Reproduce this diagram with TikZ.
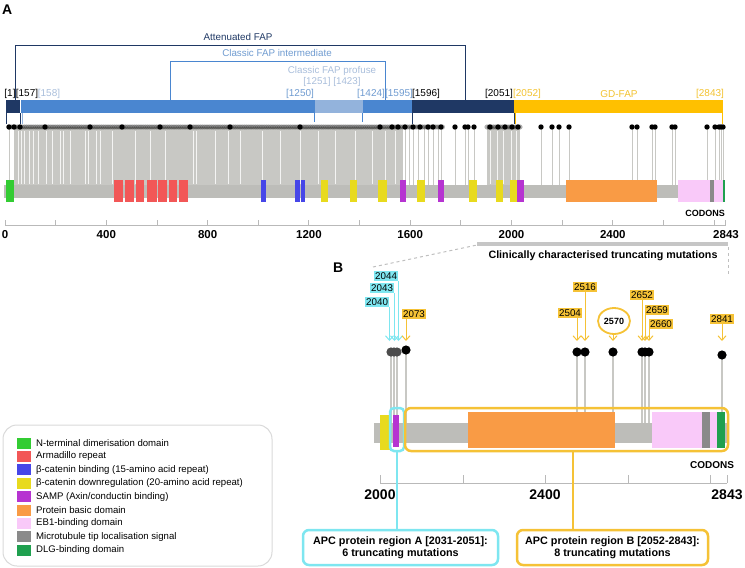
\documentclass[tikz,border=0pt]{standalone}
\usepackage{fontspec}
\setmainfont{Liberation Sans}
\usetikzlibrary{arrows.meta,shapes.geometric}
\definecolor{navy}{HTML}{1F3864}
\definecolor{fapblue}{HTML}{4A86D0}
\definecolor{faptxt}{HTML}{6F9BD0}
\definecolor{faplight}{HTML}{93B3DC}
\definecolor{faplt}{HTML}{A9BEDB}
\definecolor{gold}{HTML}{FFC000}
\definecolor{goldtxt}{HTML}{F2C230}
\definecolor{mgold}{HTML}{F5C236}
\definecolor{mcyan}{HTML}{7EE6F0}
\definecolor{bargray}{HTML}{BDBDB9}
\definecolor{stemgray}{HTML}{C8C8C4}
\definecolor{ngreen}{HTML}{33CC33}
\definecolor{armred}{HTML}{F25757}
\definecolor{bcblue}{HTML}{4646E8}
\definecolor{bdyellow}{HTML}{E8DA1E}
\definecolor{sampurple}{HTML}{B634D1}
\definecolor{pborange}{HTML}{F99B45}
\definecolor{ebpink}{HTML}{F9C9F9}
\definecolor{mtgray}{HTML}{8A8A8A}
\definecolor{dlggreen}{HTML}{1FA04F}
\tikzset{
  fapl/.style={font=\fontsize{10}{11}\selectfont, inner sep=0.5pt},
  axl/.style={font=\bfseries\fontsize{11.5}{12}\selectfont, inner sep=0.5pt},
  bxl/.style={font=\bfseries\fontsize{14}{15}\selectfont, inner sep=0.5pt},
  stem/.style={draw=stemgray, line width=0.8},
  bstem/.style={draw=stemgray, line width=1.6},
  mlab/.style={fill=mgold, inner sep=1.3pt, font=\fontsize{9.8}{10}\selectfont},
  clab/.style={fill=mcyan, inner sep=1.3pt, font=\fontsize{9.8}{10}\selectfont},
  garr/.style={draw=mgold, line width=1, -{Straight Barb[length=4.5pt,width=8pt]}},
  carr/.style={draw=mcyan, line width=1, -{Straight Barb[length=4.5pt,width=8pt]}},
  regbox/.style={draw, rounded corners=6pt, line width=2.5, minimum height=35, align=center, font=\bfseries\fontsize{10.8}{12.5}\selectfont, fill=white, inner sep=1pt},
  legsq/.style={minimum width=14, minimum height=11, inner sep=0},
  legt/.style={anchor=west, font=\fontsize{9.6}{10}\selectfont, inner sep=0},
  panel/.style={font=\bfseries\fontsize{14}{14}\selectfont, inner sep=0}
}
\begin{document}
\begin{tikzpicture}[x=1pt,y=-1pt]
\useasboundingbox (0,0) rectangle (745,568);

% ---------- Panel A ----------
\node[panel, anchor=west] (pA) at (2,10) {A};

% brackets
\draw[navy, line width=0.9] (15,100) |- (465,45) -- (465,100);
\node[navy, font=\fontsize{9.8}{10}\selectfont] (att) at (238,37) {Attenuated FAP};
\draw[fapblue, line width=0.9] (170,100) |- (385,61) -- (385,100);
\node[faptxt, font=\fontsize{9.8}{10}\selectfont] (cfi) at (277,53) {Classic FAP intermediate};
\node[faplt, font=\fontsize{9.8}{11}\selectfont, align=center] (cfp) at (332,76) {Classic FAP profuse\\{[1251] [1423]}};

% FAP bar
\fill[navy] (6,100) rectangle (20,113);
\fill[fapblue] (21,100) rectangle (315,113);
\fill[faplight] (315,100) rectangle (363,113);
\fill[fapblue] (363,100) rectangle (412,113);
\fill[navy] (412,100) rectangle (514,113);
\fill[gold] (514,100) rectangle (723,113);
\draw[navy, line width=0.9] (6.4,113) -- (6.4,124) (20,113) -- (20,124) (412,113) -- (412,124) (514,113) -- (514,124);
\draw[faplight, line width=0.9] (22,113) -- (22,124);
\draw[fapblue, line width=0.9] (314,113) -- (314,122) (362,113) -- (362,122);
\draw[gold, line width=0.9] (515,113) -- (515,124) (722.5,113) -- (722.5,124);

% bar labels
\node[fapl] (l1) at (10,94) {[1]};
\node[fapl] (l157) at (27,94) {[157]};
\node[fapl, faplt] (l158) at (49,94) {[158]};
\node[fapl, faptxt] (l1250) at (300,94) {[1250]};
\node[fapl, faptxt] (l1424) at (371,94) {[1424]};
\node[fapl, faptxt] (l1595) at (399,94) {[1595]};
\node[fapl] (l1596) at (426,94) {[1596]};
\node[fapl] (l2051) at (499,94) {[2051]};
\node[fapl, goldtxt] (l2052) at (527,94) {[2052]};
\node[fapl, goldtxt] (lgd) at (619,94) {GD-FAP};
\node[fapl, goldtxt] (l2843) at (710,94) {[2843]};

% dense stems
\fill[stemgray] (14,127) rectangle (403,186);
\foreach \x in {18,21,24,29,33,38,46,52,60,63,70,85,88,96,100,112,135,150,165,193,196,215,228,240,262,280,300,318,335,355,372,385,395}
  \draw[white, line width=0.7, opacity=0.8] (\x,131) -- (\x,184);
\draw[stem] (9,127) -- (9,186);
\foreach \x in {405,409,413,418,424,428,433,438,441,455,465,468,474,541,552,559,569,632,637,652,655,672,675,707,715,719,721,723}
  \draw[stem] (\x,127) -- (\x,186);
\fill[stemgray] (487,127) rectangle (520,186);
\foreach \x in {490,497,503,511,516}
  \draw[white, line width=0.6, opacity=0.8] (\x,131) -- (\x,184);
% dots
\foreach \x in {9,11.2,...,443}
  \fill[black, opacity=0.3] (\x,127) circle (2.6);
\foreach \x in {487,489.2,...,521}
  \fill[black, opacity=0.3] (\x,127) circle (2.6);
\foreach \x in {9,14,20,45,90,122,160,190,230,300,380,392,398,405,413,420,428,433,441,455,465,468,474,490,498,505,512,518,541,552,559,569,632,637,652,655,672,675,707,715,719,721,723}
  \fill[black] (\x,127) circle (2.7);

% protein bar A
\fill[bargray] (4,185) rectangle (724,198);
\fill[ngreen] (6,180) rectangle (14,202);
\foreach \a/\b in {114/123,125/134,136/144,147/157,158/167,169/177,179/188}
  \fill[armred] (\a,180) rectangle (\b,202);
\foreach \a/\b in {261/266,295/300,301/305}
  \fill[bcblue] (\a,180) rectangle (\b,202);
\foreach \a/\b in {321/328,350/357,378/387,417/425,469/477,496/503,510/517}
  \fill[bdyellow] (\a,180) rectangle (\b,202);
\foreach \a/\b in {400/406,438/444,517/524}
  \fill[sampurple] (\a,180) rectangle (\b,202);
\fill[pborange] (566,180) rectangle (657,202);
\fill[ebpink] (678,180) rectangle (723,202);
\fill[mtgray] (710,180) rectangle (714,202);
\fill[dlggreen] (723,180) rectangle (724.5,202);
\node[font=\bfseries\fontsize{9}{10}\selectfont, inner sep=0] (codA) at (705,213) {CODONS};

% axis A
\draw[gray!55, line width=0.9] (5,225.5) -- (725,225.5);
\foreach \c in {0,200,...,2800}
  \draw[gray!55, line width=0.9] ({5+\c*0.25326},220) -- ({5+\c*0.25326},225.5);
\draw[gray!55, line width=0.9] (725,220) -- (725,225.5);
\foreach \c in {0,400,800,1200,1600,2000,2400}
  \node[axl] (ax\c) at ({5+\c*0.25326},235) {\c};
\node[axl] (ax2843) at (726,235) {2843};

% ---------- Panel B ----------
\node[panel, anchor=west] (pB) at (333,268) {B};
\draw[gray!45, line width=4] (477,244) -- (728,244);
\draw[gray!50, dashed, line width=1] (373,267) -- (477,245);
\draw[gray!50, dashed, line width=1] (728,247) -- (728,276);
\node[font=\bfseries\fontsize{10.7}{11}\selectfont, inner sep=0] (clin) at (603,256) {Clinically characterised truncating mutations};

% stems and dots B
\foreach \n/\x/\y in {2040/391/352,2043/394/352,2044/397/352,2073/406/350,2504/577/352,2516/585/352,2570/613/352,2652/642/352,2659/645/352,2660/649/352,2841/722/355} {
  \coordinate (c\n) at (\x,\y);
  \coordinate (t\n) at (\x,341);
  \draw[bstem] (\x,\y) -- (\x,423);
}

% protein bar B
\fill[bargray] (374,423) rectangle (727,443);
\fill[bdyellow] (380,415) rectangle (390,450);
\fill[sampurple] (393,415) rectangle (399,447);
\fill[pborange] (468,412) rectangle (615,448);
\fill[ebpink] (652,412) rectangle (717,448);
\fill[mtgray] (702,412) rectangle (710,448);
\fill[dlggreen] (717,412) rectangle (725,448);

\foreach \n in {2040,2043,2044}
  \fill[black!70] (c\n) circle (4.6);
\foreach \n in {2073,2504,2516,2570,2652,2659,2660,2841}
  \fill[black] (c\n) circle (4.6);

% region boxes on bar
\node[draw=mcyan, line width=2.5, rounded corners=4pt, minimum width=14, minimum height=43, inner sep=0] (boxA) at (397,429.5) {};
\node[draw=mgold, line width=2.5, rounded corners=6pt, minimum width=323, minimum height=43, inner sep=0] (boxB) at (566.5,429.5) {};

% mutation labels
\node[clab, anchor=east] (m2040) at (389.5,302) {2040};
\node[clab, anchor=east] (m2043) at (394.5,288) {2043};
\node[clab, anchor=east] (m2044) at (398.5,276) {2044};
\node[mlab] (m2073) at (414,314) {2073};
\node[mlab] (m2504) at (570,313) {2504};
\node[mlab] (m2516) at (585,287) {2516};
\node[draw=mgold, line width=1.8, ellipse, fill=white, minimum width=32, minimum height=26, inner sep=0, font=\bfseries\fontsize{9}{10}\selectfont] (m2570) at (614,321) {2570};
\node[mlab] (m2652) at (642,295) {2652};
\node[mlab] (m2659) at (657,310) {2659};
\node[mlab] (m2660) at (661,324) {2660};
\node[mlab] (m2841) at (722,319) {2841};

\draw[carr] (m2040.south east) -- (m2040.south east |- t2040);
\draw[carr] (m2043.south east) -- (m2043.south east |- t2043);
\draw[carr] (m2044.south east) -- (m2044.south east |- t2044);
\foreach \n in {2073,2504,2516,2570,2652,2659,2660,2841}
  \draw[garr] (m\n.south -| t\n) -- (t\n);

% axis B
\draw[gray!55, line width=1] (380,483) -- (727,483);
\foreach \x in {380,463,545,628,710,727}
  \draw[gray!55, line width=1] (\x,475) -- (\x,483);
\node[bxl] (b2000) at (380,495) {2000};
\node[bxl] (b2400) at (545,495) {2400};
\node[bxl] (b2843) at (727,495) {2843};
\node[font=\bfseries\fontsize{10}{11}\selectfont, inner sep=0] (codB) at (712,465) {CODONS};

% region labels
\node[regbox, draw=mcyan, minimum width=195] (regA) at (400.5,547.5) {APC protein region A [2031-2051]:\\6 truncating mutations};
\node[regbox, draw=mgold, minimum width=191] (regB) at (612.5,547.5) {APC protein region B [2052-2843]:\\8 truncating mutations};
\draw[mcyan, line width=2.5] (boxA.south) -- (boxA.south |- regA.north);
\draw[mgold, line width=2.5] (boxB.south -| 573,0) -- (regB.north -| 573,0);

% ---------- Legend ----------
\draw[gray!30, line width=1, rounded corners=14pt] (3,425) rectangle (272,566);
\foreach \c/\t [count=\i from 0] in {ngreen/{N-terminal dimerisation domain},armred/{Armadillo repeat},bcblue/{β-catenin binding (15-amino acid repeat)},bdyellow/{β-catenin downregulation (20-amino acid repeat)},sampurple/{SAMP (Axin\slash conductin binding)},pborange/{Protein basic domain},ebpink/{EB1-binding domain},mtgray/{Microtubule tip localisation signal},dlggreen/{DLG-binding domain}} {
  \node[legsq, fill=\c] (sq\i) at (24,{443+13.4*\i}) {};
  \node[legt] (lt\i) at (36,{443+13.4*\i}) {\t};
}
\end{tikzpicture}
\end{document}
